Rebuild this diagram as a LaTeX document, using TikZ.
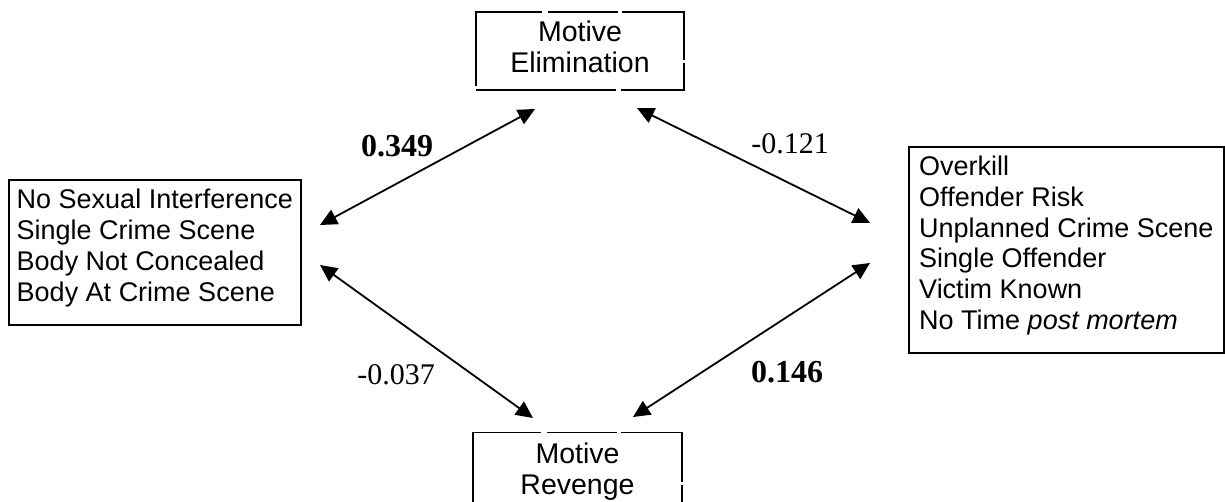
\documentclass[tikz,border=0pt]{standalone}
\usepackage{fontspec}
\setmainfont{Liberation Serif}
\newfontfamily\boxfont{Liberation Sans}
\usetikzlibrary{arrows.meta}
% invisible depth used to lift the text inside a box
\newcommand{\lift}[1]{\rule[-#1]{0pt}{0pt}}
\begin{document}
\begin{tikzpicture}[x=1pt,y=-1pt,
  listbox/.style={draw, line width=1.6pt, anchor=north west, align=left,
    inner xsep=4pt, inner ysep=0pt, font=\boxfont\fontsize{27}{30.8}\selectfont},
  motivebox/.style={draw, line width=1.2pt,
    dash pattern=on 140pt off 5pt on 90pt off 3pt on 110pt off 4pt on 70pt off 6pt,
    align=center, inner sep=0pt, font=\boxfont\fontsize{28.5}{31}\selectfont},
  link/.style={line width=1.8pt, {Triangle[length=17pt,width=16pt]}-{Triangle[length=17pt,width=16pt]}},
  coef/.style={font=\fontsize{30}{32}\selectfont},
  boldcoef/.style={font=\fontsize{32}{34}\selectfont\bfseries},
]
\useasboundingbox (0,0) rectangle (1225,501);

% outcome clusters
\node[listbox, minimum width=292, minimum height=145] (left) at (8,179)
  {No Sexual Interference\\Single Crime Scene\\Body Not Concealed\\Body At Crime Scene\lift{14pt}};
\node[listbox, minimum width=315, minimum height=206] (right) at (908,146)
  {Overkill\\Offender Risk\\Unplanned Crime Scene\\Single Offender\\Victim Known\\No Time \textit{post mortem}\lift{14pt}};

% motive boxes
\node[motivebox, minimum width=208, minimum height=78] (elim) at (580,51)
  {Motive\\Elimination\lift{9pt}};
\begin{scope}
  \clip (0,0) rectangle (1225,501);
  \node[motivebox, anchor=north, minimum width=209, minimum height=78] (rev) at (577.5,432)
    {Motive\\Revenge};
\end{scope}

% connector ends
\coordinate (eL) at (535,109);
\coordinate (lE) at (320,225);
\coordinate (eR) at (637,108);
\coordinate (rE) at (870,223);
\coordinate (lV) at (320,265);
\coordinate (vL) at (533,418);
\coordinate (rV) at (870,263);
\coordinate (vR) at (633,417);

\draw[link] (lE) -- (eL);
\draw[link] (eR) -- (rE);
\draw[link] (lV) -- (vL);
\draw[link] (vR) -- (rV);

% coefficients
\node[boldcoef] (c1) at (397,146) {0.349};
\node[coef] (c2) at (790,144) {-0.121};
\node[coef] (c3) at (396,375) {-0.037};
\node[boldcoef] (c4) at (787,372) {0.146};
\end{tikzpicture}
\end{document}
